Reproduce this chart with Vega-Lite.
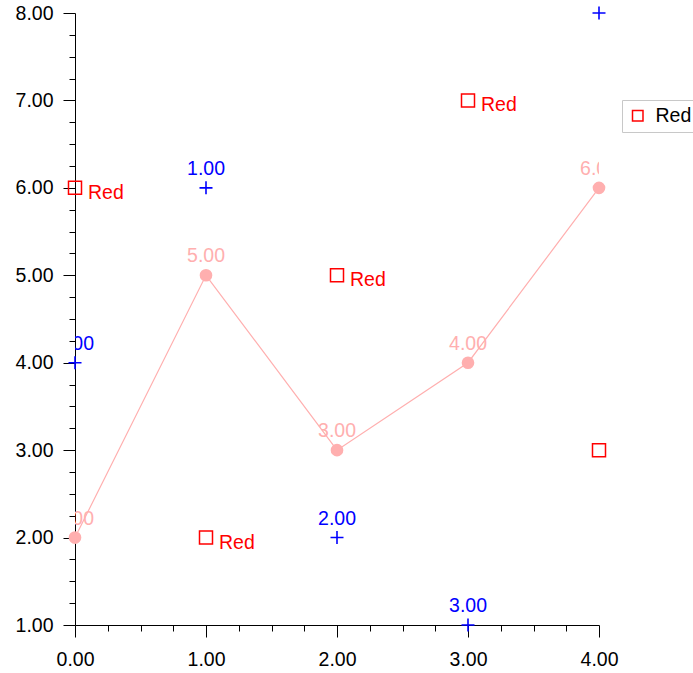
{
  "$schema": "https://vega.github.io/schema/vega-lite/v6.json",
  "width": 524,
  "height": 612,
  "autosize": {"type": "none"},
  "padding": {"left": 75, "top": 13, "right": 94, "bottom": 48},
  "background": "white",
  "config": {
    "view": {"stroke": null},
    "font": "Liberation Sans",
    "axis": {
      "grid": false,
      "title": null,
      "domainColor": "black",
      "domainWidth": 1,
      "tickColor": "black",
      "tickWidth": 1,
      "labelColor": "black",
      "labelFont": "Liberation Sans",
      "labelFontSize": 19.5,
      "labelOverlap": false,
      "labelFlush": false
    }
  },
  "datasets": {
    "line": [
      {"x": 0, "y": 2}, {"x": 1, "y": 5}, {"x": 2, "y": 3}, {"x": 3, "y": 4}, {"x": 4, "y": 6}
    ],
    "plus": [
      {"x": 0, "y": 4}, {"x": 1, "y": 6}, {"x": 2, "y": 2}, {"x": 3, "y": 1}, {"x": 4, "y": 8}
    ],
    "sq": [
      {"x": 0, "y": 6, "series": "Red"}, {"x": 1, "y": 2, "series": "Red"}, {"x": 2, "y": 5, "series": "Red"}, {"x": 3, "y": 7, "series": "Red"}, {"x": 4, "y": 3, "series": "Red"}
    ]
  },
  "encoding": {
    "x": {
      "field": "x", "type": "quantitative",
      "scale": {"domain": [0, 4], "nice": false, "zero": false},
      "axis": {
        "values": [0, 0.25, 0.5, 0.75, 1, 1.25, 1.5, 1.75, 2, 2.25, 2.5, 2.75, 3, 3.25, 3.5, 3.75, 4],
        "labelExpr": "datum.value % 1 === 0 ? format(datum.value, '.2f') : ''",
        "tickSize": {"condition": {"test": "datum.value % 1 === 0", "value": 12}, "value": 6},
        "labelPadding": 13
      }
    },
    "y": {
      "field": "y", "type": "quantitative",
      "scale": {"domain": [1, 8], "nice": false, "zero": false},
      "axis": {
        "values": [1, 1.25, 1.5, 1.75, 2, 2.25, 2.5, 2.75, 3, 3.25, 3.5, 3.75, 4, 4.25, 4.5, 4.75, 5, 5.25, 5.5, 5.75, 6, 6.25, 6.5, 6.75, 7, 7.25, 7.5, 7.75, 8],
        "labelExpr": "datum.value % 1 === 0 ? format(datum.value, '.2f') : ''",
        "tickSize": {"condition": {"test": "datum.value % 1 === 0", "value": 12}, "value": 6},
        "labelPadding": 10
      }
    }
  },
  "layer": [
    {
      "data": {"name": "line"},
      "mark": {"type": "line", "color": "#ffafaf", "strokeWidth": 1.2}
    },
    {
      "data": {"name": "line"},
      "mark": {"type": "point", "shape": "circle", "filled": true, "color": "#ffafaf", "opacity": 1, "size": 160}
    },
    {
      "data": {"name": "line"},
      "mark": {"type": "text", "clip": true, "color": "#ffafaf", "fontSize": 19.5, "baseline": "middle", "align": "center", "dy": -19},
      "encoding": {"text": {"field": "y", "type": "quantitative", "format": ".2f"}}
    },
    {
      "data": {"name": "plus"},
      "mark": {"type": "point", "shape": "M-1,0H1M0,-1V1", "filled": false, "color": "#0000ff", "opacity": 1, "strokeWidth": 1.6, "size": 169}
    },
    {
      "data": {"name": "plus"},
      "mark": {"type": "text", "clip": true, "color": "#0000ff", "fontSize": 19.5, "baseline": "middle", "align": "center", "dy": -19},
      "encoding": {"text": {"field": "x", "type": "quantitative", "format": ".2f"}}
    },
    {
      "data": {"name": "sq"},
      "mark": {"type": "point", "shape": "square", "filled": false, "opacity": 1, "strokeWidth": 1.5, "size": 169},
      "encoding": {
        "color": {
          "field": "series", "type": "nominal",
          "scale": {"domain": ["Red"], "range": ["#ff0000"]},
          "legend": {
            "title": null,
            "orient": "none",
            "legendX": 547,
            "legendY": 87,
            "strokeColor": "#c8c8c8",
            "fillColor": "white",
            "padding": 6,
            "symbolType": "square",
            "symbolSize": 110,
            "symbolStrokeWidth": 1.5,
            "labelFontSize": 19.5,
            "labelColor": "black",
            "labelFont": "Liberation Sans",
            "labelOffset": 8
          }
        }
      }
    },
    {
      "data": {"name": "sq"},
      "mark": {"type": "text", "clip": true, "color": "#ff0000", "fontSize": 19.5, "baseline": "middle", "align": "left", "dx": 13, "dy": 5},
      "encoding": {"text": {"field": "series", "type": "nominal"}}
    }
  ]
}
